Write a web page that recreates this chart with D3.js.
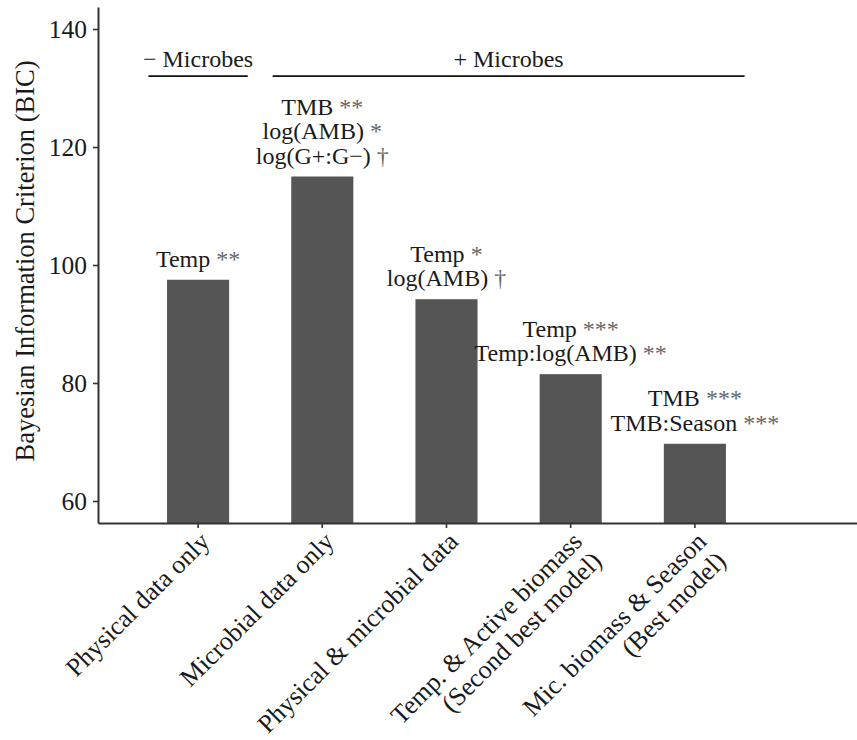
<!DOCTYPE html>
<html>
<head>
<meta charset="utf-8">
<script src="https://cdn.jsdelivr.net/npm/d3@7"></script>
<style>
  html, body { margin: 0; padding: 0; background: #fff; }
  svg { display: block; font-family: "Liberation Serif", "Times New Roman", serif; }
</style>
</head>
<body>
<svg id="chart" width="857" height="740"></svg>
<script>
// Model comparison: BIC of each candidate model
const categories = [
  "Physical data only",
  "Microbial data only",
  "Physical & microbial data",
  "Temp. & Active biomass\n(Second best model)",
  "Mic. biomass & Season\n(Best model)"
];
const bicValues = [97.5, 115.0, 94.2, 81.5, 69.7];

// Significant terms retained in each model (term, significance marker)
const termLabels = [
  [["Temp", "**"]],
  [["TMB", "**"], ["log(AMB)", "*"], ["log(G+:G\u2212)", "\u2020"]],
  [["Temp", "*"], ["log(AMB)", "\u2020"]],
  [["Temp", "***"], ["Temp:log(AMB)", "**"]],
  [["TMB", "***"], ["TMB:Season", "***"]]
];

const yTicks = [60, 80, 100, 120, 140];

// Grouping brackets above the bars
const groupLabels = ["\u2212 Microbes", "+ Microbes"];
const groupFirst = [0, 1];
const groupLast = [0, 4];
const groupBracketValue = 132;
const groupTextValue = 133.6;

const svg = d3.select("#chart");
const axisColor = "#333";
const textColor = "#1a1a1a";
const barColor = "#555555";

const y = d3.scaleLinear().domain([56.27, 143.73]).range([523, 7]);
const x = d3.scaleBand()
  .domain(categories)
  .range([98, 857])
  .paddingInner(0.5)
  .paddingOuter(0.8056)
  .align(0.345);
const step = x.step();
const cx = c => x(c) + x.bandwidth() / 2;

// Bars
svg.append("g")
  .selectAll("rect")
  .data(categories)
  .join("rect")
  .attr("x", d => x(d))
  .attr("width", x.bandwidth())
  .attr("y", (d, i) => y(bicValues[i]))
  .attr("height", (d, i) => y(56.27) - y(bicValues[i]))
  .attr("fill", barColor);

// Y axis
const yAxis = svg.append("g")
  .attr("transform", "translate(98,0)")
  .call(d3.axisLeft(y).tickValues(yTicks).tickSize(5).tickSizeOuter(0).tickPadding(6));
yAxis.select(".domain").attr("stroke", axisColor).attr("stroke-width", 2);
yAxis.selectAll(".tick line").attr("stroke", axisColor).attr("stroke-width", 1.6);
yAxis.selectAll(".tick text")
  .attr("fill", textColor)
  .attr("font-size", 25.5)
  .attr("font-family", "Liberation Serif, serif");

// X axis with rotated, possibly two-line labels
const xAxis = svg.append("g")
  .attr("transform", "translate(0,523)")
  .call(d3.axisBottom(x).tickSize(5).tickSizeOuter(0));
xAxis.select(".domain").attr("stroke", axisColor).attr("stroke-width", 2);
xAxis.selectAll(".tick line").attr("stroke", axisColor).attr("stroke-width", 1.6);
xAxis.selectAll(".tick text").each(function(d) {
  const t = d3.select(this);
  t.text(null)
    .attr("y", null).attr("dy", null)
    .attr("fill", textColor)
    .attr("font-size", 26)
    .attr("font-family", "Liberation Serif, serif")
    .attr("text-anchor", "end")
    .attr("transform", "translate(0,7) rotate(-45)");
  d.split("\n").forEach((line, k) => {
    t.append("tspan").attr("x", 0).attr("y", 18.5 + k * 27.5).text(line);
  });
});

// Significant-term annotations above each bar
const lineGap = 24.5;
categories.forEach((c, i) => {
  const terms = termLabels[i];
  const g = svg.append("g");
  terms.forEach((tm, k) => {
    const base = y(bicValues[i]) - 13 - (terms.length - 1 - k) * lineGap;
    const t = g.append("text")
      .attr("x", cx(c))
      .attr("y", base)
      .attr("text-anchor", "middle")
      .attr("font-size", 24)
      .attr("fill", textColor);
    t.append("tspan").text(tm[0] + " ");
    t.append("tspan").attr("fill", "#666").text(tm[1]);
  });
});

// Group brackets
groupLabels.forEach((lab, i) => {
  const x0 = cx(categories[groupFirst[i]]) - 0.4 * step;
  const x1 = cx(categories[groupLast[i]]) + 0.4 * step;
  svg.append("line")
    .attr("x1", x0).attr("x2", x1)
    .attr("y1", y(groupBracketValue)).attr("y2", y(groupBracketValue))
    .attr("stroke", "#111").attr("stroke-width", 1.8);
  svg.append("text")
    .attr("x", (x0 + x1) / 2)
    .attr("y", y(groupTextValue))
    .attr("text-anchor", "middle")
    .attr("font-size", 24)
    .attr("fill", textColor)
    .text(lab);
});

// Y axis title
svg.append("text")
  .attr("transform", "translate(34,261) rotate(-90)")
  .attr("text-anchor", "middle")
  .attr("font-size", 26.5)
  .attr("fill", textColor)
  .text("Bayesian Information Criterion (BIC)");
</script>
</body>
</html>
